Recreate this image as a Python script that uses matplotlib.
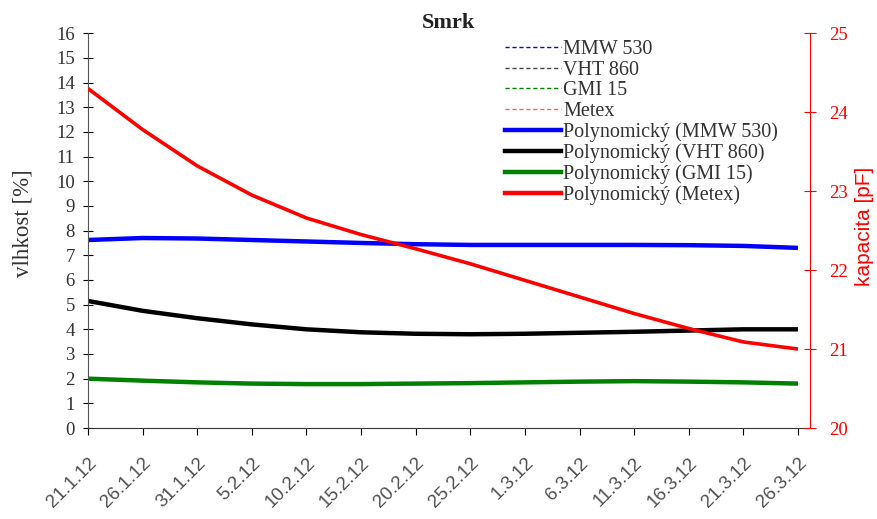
import numpy as np
import pandas as pd
import matplotlib
matplotlib.use('Agg')
import matplotlib.pyplot as plt
from matplotlib.lines import Line2D

# ------------- data -------------
dates = ["21.1.12", "26.1.12", "31.1.12", "5.2.12", "10.2.12", "15.2.12", "20.2.12",
         "25.2.12", "1.3.12", "6.3.12", "11.3.12", "16.3.12", "21.3.12", "26.3.12"]
tick_labels = dates

# polynomial trends, left axis (vlhkost %)
poly_mmw = [7.62, 7.70, 7.68, 7.62, 7.56, 7.50, 7.45, 7.42, 7.42, 7.42, 7.42, 7.41, 7.38, 7.30]
poly_vht = [5.15, 4.75, 4.45, 4.20, 4.00, 3.88, 3.82, 3.80, 3.82, 3.86, 3.90, 3.95, 4.00, 4.00]
poly_gmi = [2.00, 1.92, 1.85, 1.80, 1.78, 1.78, 1.80, 1.82, 1.85, 1.88, 1.90, 1.88, 1.85, 1.80]
# polynomial trend, right axis (kapacita pF)
poly_metex = [24.30, 23.78, 23.32, 22.95, 22.66, 22.45, 22.27, 22.08, 21.87, 21.66, 21.45, 21.26, 21.09, 21.00]

x = pd.to_datetime(dates, format="%d.%m.%y")

serif = ['Liberation Serif', 'DejaVu Serif']
sans = ['Liberation Sans', 'DejaVu Sans']
plt.rcParams['font.family'] = serif

fig = plt.figure(figsize=(8.77, 5.19), dpi=100)
ax = fig.add_axes([0.1003, 0.1753, 0.9236 - 0.1003, 0.936 - 0.1753])
ax2 = ax.twinx()

ax.plot(x, poly_mmw, color='#0000ff', lw=3.2, solid_capstyle='butt')
ax.plot(x, poly_vht, color='black', lw=3.2, solid_capstyle='butt')
ax.plot(x, poly_gmi, color='#008000', lw=3.2, solid_capstyle='butt')
ax2.plot(x, poly_metex, color='#ff0000', lw=2.6, solid_capstyle='butt')

# axes
ax.set_xlim(x[0], x[-1] + pd.Timedelta(days=1.1))
ax.set_ylim(0, 16)
ax.set_yticks(range(0, 17))
ax2.set_ylim(20, 25)
ax2.set_yticks(range(20, 26))
ax.set_xticks(x)
ax.set_xticklabels(tick_labels, rotation=45, ha='right', rotation_mode='anchor',
                   fontsize=13.5, color='#505050', family=sans)
ax.tick_params(axis='x', direction='out', length=5, pad=14)
ax.tick_params(axis='y', direction='inout', length=7, labelsize=13.5, labelcolor='#333333', pad=6)
ax2.tick_params(axis='y', direction='inout', length=9, colors='#ff0000', labelsize=13.5, pad=9)

for a in (ax, ax2):
    a.spines['top'].set_visible(False)
ax.spines['right'].set_visible(False)
ax2.spines['left'].set_visible(False)
ax2.spines['bottom'].set_visible(False)
ax2.spines['right'].set_color('#ff0000')
ax.spines['left'].set_color('#555555')
ax.spines['bottom'].set_color('#333333')

ax.set_ylabel('vlhkost [%]', fontsize=16.5, color='#333333')
ax.yaxis.set_label_coords(-0.075, 0.52)
ax2.set_ylabel('kapacita [pF]', fontsize=15, color='#ff0000', family=sans)
ax2.yaxis.set_label_coords(1.062, 0.51)
ax.set_title('Smrk', fontsize=16, fontweight='bold', pad=4, color='#222222')

handles = [
    Line2D([], [], color='#0000ff', lw=1, ls=(0, (3, 2))),
    Line2D([], [], color='#444444', lw=1, ls=(0, (3, 2))),
    Line2D([], [], color='#008000', lw=1, ls=(0, (3, 2))),
    Line2D([], [], color='#ff6060', lw=1, ls=(0, (3, 2))),
    Line2D([], [], color='#0000ff', lw=3.2),
    Line2D([], [], color='black', lw=3.2),
    Line2D([], [], color='#008000', lw=3.2),
    Line2D([], [], color='#ff0000', lw=3.2),
]
labels = ["MMW 530", "VHT 860", "GMI 15", "Metex",
          "Polynomický (MMW 530)", "Polynomický (VHT 860)",
          "Polynomický (GMI 15)", "Polynomický (Metex)"]
leg = ax2.legend(handles, labels, loc='upper left', bbox_to_anchor=(495 / 877, 1 - 30 / 519),
                 bbox_transform=fig.transFigure, frameon=False, fontsize=14.5,
                 handlelength=2.8, handletextpad=0.1, labelspacing=0.07, borderpad=0)
for t in leg.get_texts():
    t.set_color('#333333')

fig.savefig('out.png', dpi=100)
